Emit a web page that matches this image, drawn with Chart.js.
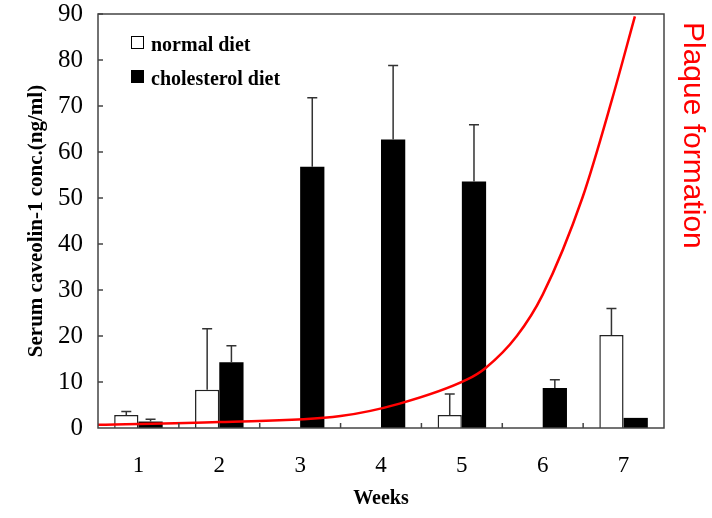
<!DOCTYPE html>
<html>
<head>
<meta charset="utf-8">
<script src="https://cdn.jsdelivr.net/npm/chart.js@4.4.0/dist/chart.umd.min.js"></script>
<style>
  html, body { margin: 0; padding: 0; background: #fff; }
  #wrap { position: relative; width: 712px; height: 518px; }
</style>
</head>
<body>
<div id="wrap"><canvas id="chart"></canvas></div>
<script>
const weeks = ['1', '2', '3', '4', '5', '6', '7'];
const normalDiet = [2.8, 8.3, 0, 0, 2.8, 0, 20.2];
const normalErr = [0.8, 13.3, 0, 0, 4.6, 0, 5.8];
const cholesterolDiet = [1.4, 14.3, 56.8, 62.7, 53.6, 8.7, 2.2];
const cholesterolErr = [0.5, 3.6, 15.0, 16.1, 12.3, 1.8, 0];
// Plaque formation curve (x in weeks)
const plaqueWeek = [0.5, 2.0, 3.5, 4.23, 5.06, 5.29, 5.68, 6.0, 6.49, 6.86, 7.14];
const plaqueLevel = [0.7, 1.3, 2.6, 5.3, 10.5, 13.0, 20.0, 29.0, 50.0, 71.6, 89.5];

const serif = '"Liberation Serif", "DejaVu Serif", serif';
const sans = '"Liberation Sans", Arial, sans-serif';

// error bars, inward ticks, frame, legend and the red label
const extras = {
  id: 'extras',
  afterDatasetsDraw(chart) {
    const ctx = chart.ctx;
    const x = chart.scales.x;
    const y = chart.scales.y;
    const area = chart.chartArea;
    ctx.save();
    // error bars (upper half only)
    ctx.strokeStyle = '#333';
    ctx.lineWidth = 1.5;
    [[0, normalDiet, normalErr], [1, cholesterolDiet, cholesterolErr]].forEach(([di, vals, errs]) => {
      const meta = chart.getDatasetMeta(di);
      meta.data.forEach((bar, i) => {
        if (!errs[i]) return;
        const top = y.getPixelForValue(vals[i] + errs[i]);
        const base = y.getPixelForValue(vals[i]);
        ctx.beginPath();
        ctx.moveTo(bar.x, base);
        ctx.lineTo(bar.x, top);
        ctx.moveTo(bar.x - 5, top);
        ctx.lineTo(bar.x + 5, top);
        ctx.stroke();
      });
    });
    // frame
    ctx.strokeStyle = '#444';
    ctx.lineWidth = 1.5;
    ctx.strokeRect(area.left, area.top, area.right - area.left, area.bottom - area.top);
    // inward ticks
    ctx.beginPath();
    for (let v = 10; v <= 90; v += 10) {
      const py = y.getPixelForValue(v);
      ctx.moveTo(area.left, py);
      ctx.lineTo(area.left + 5, py);
    }
    for (let i = 1; i < weeks.length; i++) {
      const px = x.getPixelForValue(i + 0.5);
      ctx.moveTo(px, area.bottom);
      ctx.lineTo(px, area.bottom - 5);
    }
    ctx.stroke();
    // legend
    ctx.lineWidth = 1;
    ctx.strokeStyle = '#000';
    ctx.fillStyle = '#fff';
    ctx.fillRect(131.5, 36.5, 12, 12);
    ctx.strokeRect(131.5, 36.5, 12, 12);
    ctx.fillStyle = '#000';
    ctx.fillRect(131, 70, 13, 13);
    ctx.font = 'bold 20px ' + serif;
    ctx.textBaseline = 'alphabetic';
    ctx.textAlign = 'left';
    ctx.fillText(chart.data.datasets[0].label, 151, 51);
    ctx.fillText(chart.data.datasets[1].label, 151, 85);
    // Plaque formation label
    ctx.fillStyle = '#ff0000';
    ctx.font = '30px ' + sans;
    ctx.translate(677, 22);
    ctx.rotate(Math.PI / 2);
    ctx.textBaseline = 'bottom';
    ctx.fillText('Plaque formation', 0, 0);
    ctx.restore();
  },
};

new Chart(document.getElementById('chart'), {
  type: 'bar',
  data: {
    datasets: [
      {
        label: 'normal diet',
        data: normalDiet.map((v, i) => ({x: i + 1, y: v})),
        backgroundColor: '#fff',
        borderColor: '#222',
        borderWidth: 1.5,
        categoryPercentage: 0.6,
        barPercentage: 1,
        order: 1,
      },
      {
        label: 'cholesterol diet',
        data: cholesterolDiet.map((v, i) => ({x: i + 1, y: v})),
        backgroundColor: '#000',
        borderColor: '#000',
        borderWidth: 0,
        categoryPercentage: 0.6,
        barPercentage: 1,
        order: 1,
      },
      {
        type: 'line',
        label: 'Plaque formation',
        data: plaqueWeek.map((w, i) => ({x: w, y: plaqueLevel[i]})),
        borderColor: '#ff0000',
        borderWidth: 2.5,
        pointRadius: 0,
        cubicInterpolationMode: 'monotone',
        order: 0,
      },
    ],
  },
  options: {
    responsive: true,
    maintainAspectRatio: false,
    animation: false,
    layout: { padding: { top: 14, right: 48, bottom: 0, left: 0 } },
    scales: {
      x: {
        type: 'linear',
        min: 0.5,
        max: 7.5,
        offset: false,
        grid: { display: false, drawTicks: false },
        border: { display: false },
        afterBuildTicks: (s) => { s.ticks = weeks.map((w, i) => ({value: i + 1})); },
        ticks: {
          color: '#000',
          padding: 24,
          font: { family: serif, size: 23 },
          callback: (v) => weeks[v - 1],
        },
        title: { display: true, text: 'Weeks', color: '#000', padding: { top: 0, bottom: 7 }, font: { family: serif, size: 20, weight: 'bold' } },
        afterFit: (s) => { s.height = 90; s.paddingLeft = 0; s.paddingRight = 0; },
      },
      y: {
        min: 0,
        max: 90,
        grid: { display: false, drawTicks: false },
        border: { display: false },
        ticks: { stepSize: 10, color: '#000', padding: 15, font: { family: serif, size: 25 } },
        title: { display: true, text: 'Serum caveolin-1 conc.(ng/ml)', color: '#000', padding: { top: 24, bottom: 0 }, font: { family: serif, size: 21, weight: 'bold' } },
        afterFit: (s) => { s.width = 98; s.paddingTop = 0; s.paddingBottom = 0; },
      },
    },
    plugins: {
      legend: { display: false },
      tooltip: { enabled: false },
    },
  },
  plugins: [extras],
});
</script>
</body>
</html>
